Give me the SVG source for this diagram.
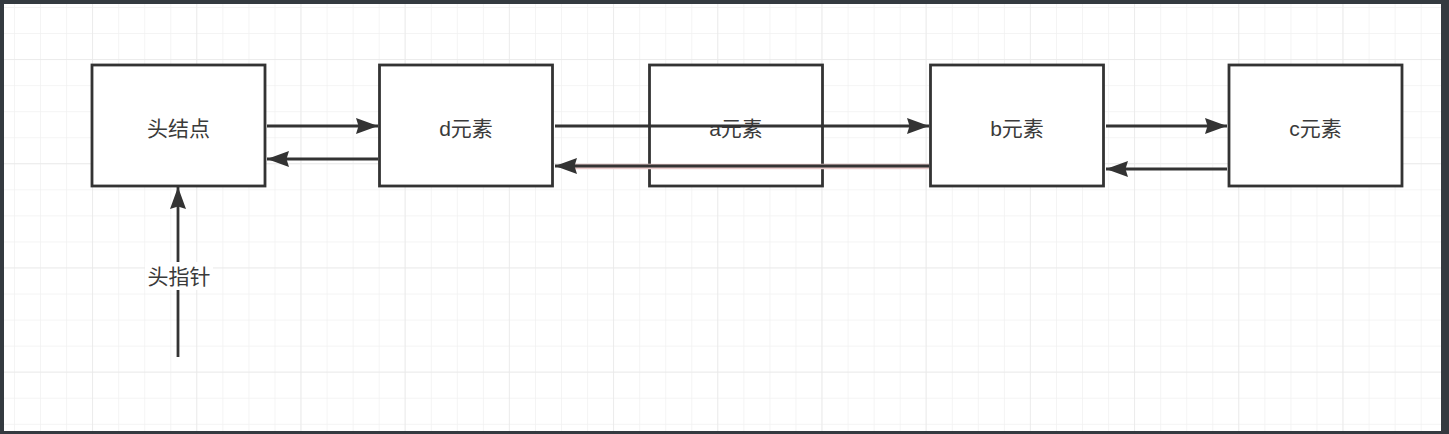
<svg xmlns="http://www.w3.org/2000/svg" width="1449" height="434" viewBox="0 0 1449 434">
<defs>
<pattern id="minor" x="14" y="7" width="26.05" height="26.05" patternUnits="userSpaceOnUse">
<path d="M0,0 H26.05 M0,0 V26.05" fill="none" stroke="#f1f1f1" stroke-width="1.5"/>
</pattern>
<pattern id="major" x="92" y="59" width="104.2" height="104.2" patternUnits="userSpaceOnUse">
<path d="M0,0 H104.2 M0,0 V104.2" fill="none" stroke="#e9e9e9" stroke-width="1.5"/>
</pattern>
<marker id="arr" markerUnits="userSpaceOnUse" markerWidth="24" markerHeight="18" refX="22" refY="9" orient="auto" viewBox="0 0 24 18">
<path d="M0,1 L22,9 L0,17 L2.5,9 Z" fill="#333"/>
</marker>
</defs>
<style>
.box{fill:#fff;stroke:#333;stroke-width:2.8}
.lbl{font-family:"Liberation Sans","Noto Sans CJK SC",sans-serif;font-size:21px;fill:#3a3a3a;text-anchor:middle;dominant-baseline:central}
.edge{stroke:#333;stroke-width:2.8;fill:none;marker-end:url(#arr)}
</style>
<rect width="1449" height="434" fill="#343a40"/>
<rect x="4" y="4" width="1437" height="427" fill="#fff"/>
<rect x="4" y="4" width="1437" height="427" fill="url(#minor)"/>
<rect x="4" y="4" width="1437" height="427" fill="url(#major)"/>

<g id="head"><rect class="box" x="92" y="65" width="173" height="121"/><text class="lbl" x="178.5" y="128">头结点</text></g>
<g id="d"><rect class="box" x="379.5" y="65" width="173" height="121"/><text class="lbl" x="466" y="128">d元素</text></g>
<g id="a"><rect class="box" x="649.5" y="65" width="173" height="121"/><text class="lbl" x="736" y="128">a元素</text></g>
<g id="b"><rect class="box" x="930.5" y="65" width="173" height="121"/><text class="lbl" x="1017" y="128">b元素</text></g>
<g id="c"><rect class="box" x="1229" y="65" width="173" height="121"/><text class="lbl" x="1315.5" y="128">c元素</text></g>

<g id="connectors">
<path class="edge" d="M267,126 H378"/>
<path class="edge" d="M378,159 H267"/>
<path class="edge" d="M555,126 H929"/>
<path d="M929,166.5 H575" stroke="#e9c9c9" stroke-width="5.5" fill="none"/>
<path class="edge" d="M929,166 H555"/>
<path class="edge" d="M1106,126 H1227"/>
<path class="edge" d="M1227,169 H1106"/>
<path class="edge" d="M178,357 V187"/>
<rect x="145" y="262" width="68" height="28" fill="#fff"/>
<text class="lbl" x="179" y="276">头指针</text>
</g>
</svg>
